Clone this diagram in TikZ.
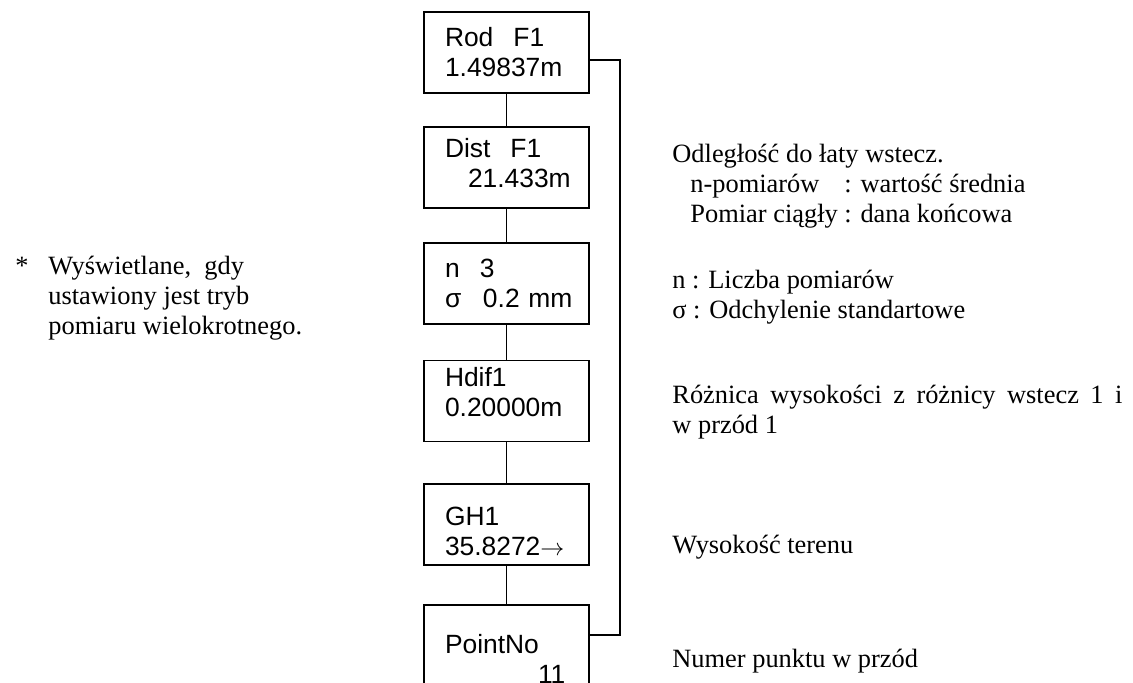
\documentclass[tikz,border=0pt]{standalone}
\usepackage{fontspec}
\setmainfont{Liberation Serif}
\setsansfont{Liberation Sans}

\begin{document}
\begin{tikzpicture}[x=0.5pt, y=-0.5pt,
every edge/.style = {draw=black, line width=0.8pt},
 scrn/.style = {rectangle, draw, line width=0.9pt,
      minimum width=82.5pt, minimum height=40.5pt,
      text width=61.5pt, inner xsep=10.5pt, inner ysep=0pt,
      align=left, font=\sffamily\fontsize{13.2}{15}\selectfont},
 note/.style = {anchor=base west, inner sep=0pt, align=left,
      font=\fontsize{13.2}{15}\selectfont}
                    ]
\useasboundingbox (0,0) rectangle (1133,682);
\node (rod)  [scrn]                  at (506.5, 52.5) {Rod\hspace{10pt}F1\\1.49837m};
\node (dist) [scrn,text depth=20pt]  at (506.5,167.5) {Dist\hspace{10pt}F1\\\hspace*{11.5pt}21.433m};
\node (nsig) [scrn]                  at (506.5,283.5) {\makebox[17.5pt][l]{n}3\\\makebox[19pt][l]{σ}0.2~mm};
\node (hdif) [scrn,text depth=24pt]  at (506.5,401.0) {Hdif1\\0.20000m};
\node (gh)   [scrn,text height=16.5pt] at (506.5,524.5) {GH1\\35.8272$\rightarrow$};
\node (pnt)  [scrn,text height=22.5pt] at (506.5,645.5) {PointNo\\\hspace*{46.5pt}11};
 %
\path   (rod)  edge (dist)
        (dist) edge (nsig)
        (nsig) edge (hdif)
        (hdif) edge (gh)
        (gh)   edge (pnt);
\coordinate (brT) at (620,60);
\coordinate (brB) at (620,635);
\draw[line width=0.8pt] (rod.east |- brT) -- (brT) -- (brB) -- (pnt.east |- brB);
 %
% multi-line notes: base anchor sits on the last line
\node (star) [note] at (15,274) {*};
\node (wysw) [note] at (48,334) {Wyświetlane,\ \ gdy\\ustawiony jest tryb\\pomiaru wielokrotnego.};
\node (odl)  [note] at (672,222) {Odległość do łaty wstecz.\\
  \hspace*{9pt}\makebox[77pt][l]{n-pomiarów}: wartość średnia\\
  \hspace*{9pt}Pomiar ciągły : dana końcowa};
\node (nsd)  [note] at (672,318) {n : Liczba pomiarów\\σ : Odchylenie standartowe};
\node (roz)  [note] at (672,433) {\makebox[225pt][s]{Różnica wysokości z różnicy wstecz 1 i}\\w przód 1};
\node (wys)  [note] at (672,553) {Wysokość terenu};
\node (num)  [note] at (672,667) {Numer punktu w przód};
\end{tikzpicture}
\end{document}
